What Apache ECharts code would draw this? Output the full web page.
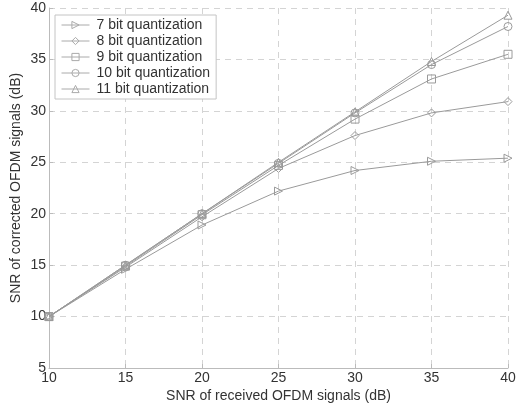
<!DOCTYPE html>
<html>
<head>
<meta charset="utf-8">
<script src="https://cdn.jsdelivr.net/npm/echarts@6/dist/echarts.min.js"></script>
<style>
  html, body { margin: 0; padding: 0; background: #fff; }
  #chart { width: 524px; height: 407px; }
</style>
</head>
<body>
<div id="chart"></div>
<script>
// received SNR (dB)
const snrIn = [10, 15, 20, 25, 30, 35, 40]
const bits7 = [10, 14.6, 18.9, 22.2, 24.2, 25.1, 25.4]
const bits8 = [10, 14.8, 19.7, 24.4, 27.6, 29.8, 30.9]
const bits9 = [10, 14.9, 19.9, 24.7, 29.2, 33.1, 35.5]
const bits10 = [10, 15, 20, 24.9, 29.8, 34.5, 38.2]
const bits11 = [10, 15, 20, 25, 29.9, 34.8, 39.3]
const names = ['7 bit quantization', '8 bit quantization', '9 bit quantization', '10 bit quantization', '11 bit quantization']

const lineColor = '#9a9a9a'
const font = 'Liberation Sans, Arial, sans-serif'

function mkSeries(name, vals, symbol, rotate) {
  return {
    name: name,
    type: 'line',
    data: snrIn.map((x, i) => [x, vals[i]]),
    symbol: symbol,
    symbolSize: 8,
    symbolRotate: rotate || 0,
    showAllSymbol: true,
    lineStyle: { color: lineColor, width: 1 },
    itemStyle: { color: 'rgba(255,255,255,0)', borderColor: lineColor, borderWidth: 1 },
    emphasis: { disabled: true },
    animation: false
  }
}

const chart = echarts.init(document.getElementById('chart'))
chart.setOption({
  animation: false,
  textStyle: { fontFamily: font },
  grid: { left: 49, right: 16, top: 8, bottom: 39, outerBoundsMode: 'none', containLabel: false },
  legend: {
    orient: 'vertical',
    left: 55,
    top: 15,
    itemGap: 2,
    itemWidth: 28,
    itemHeight: 9,
    padding: [3, 6, 3, 6],
    borderColor: '#c4c4c4',
    borderWidth: 1,
    backgroundColor: '#fff',
    lineStyle: { width: 1, color: '#aaa' },
    itemStyle: { borderWidth: 1, borderColor: '#aaa', color: 'rgba(255,255,255,0)' },
    textStyle: { fontSize: 14, color: '#333', fontFamily: font, padding: [0, 0, 0, 2] },
    data: names
  },
  xAxis: {
    type: 'value',
    min: 10, max: 40, interval: 5,
    name: 'SNR of received OFDM signals (dB)',
    nameLocation: 'middle',
    nameGap: 21,
    nameMoveOverlap: false,
    nameTextStyle: { fontSize: 14, color: '#333' },
    axisLine: { lineStyle: { color: '#bbb' } },
    axisTick: { inside: true, length: 4, lineStyle: { color: '#bbb' } },
    axisLabel: { fontSize: 14, color: '#333', margin: 3 },
    splitLine: { show: true, lineStyle: { color: '#d4d4d4', type: [6, 5] } }
  },
  yAxis: {
    type: 'value',
    min: 5, max: 40, interval: 5,
    name: 'SNR of corrected OFDM signals (dB)',
    nameLocation: 'middle',
    nameGap: 26,
    nameMoveOverlap: false,
    nameTextStyle: { fontSize: 14, color: '#333' },
    axisLine: { show: true, lineStyle: { color: '#bbb' } },
    axisTick: { show: true, inside: true, length: 4, lineStyle: { color: '#bbb' } },
    axisLabel: { fontSize: 14, color: '#333', margin: 3 },
    splitLine: { show: true, lineStyle: { color: '#d4d4d4', type: [6, 5] } }
  },
  series: [
    mkSeries(names[0], bits7, 'triangle', -90),
    mkSeries(names[1], bits8, 'diamond'),
    mkSeries(names[2], bits9, 'rect'),
    mkSeries(names[3], bits10, 'circle'),
    mkSeries(names[4], bits11, 'triangle')
  ]
})
</script>
</body>
</html>
